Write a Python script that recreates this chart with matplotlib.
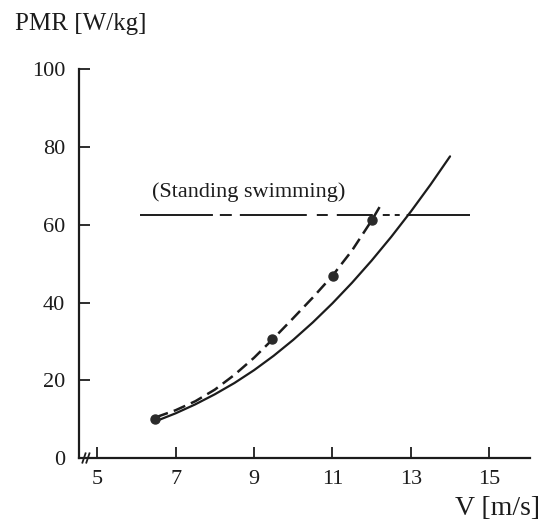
#!/usr/bin/env python

import numpy as np
import matplotlib
matplotlib.use('Agg')
import matplotlib.pyplot as plt

# values
# solid curve (predicted PMR)
v_solid = [6.5, 7.0, 7.5, 8.0, 8.5, 9.0, 9.5, 10.0, 10.5, 11.0, 11.5,
	12.0, 12.5, 13.0, 13.5, 14.0]
pmr_solid = [9.5, 11.5, 13.8, 16.4, 19.3, 22.6, 26.3, 30.4, 34.9, 39.8,
	45.1, 50.8, 56.9, 63.4, 70.3, 77.6]

# dashed curve (through measurements)
v_dash = [6.5, 7.0, 7.5, 8.0, 8.5, 9.0, 9.5, 10.0, 10.5, 11.0, 11.5,
	12.0, 12.28]
pmr_dash = [10.5, 12.3, 14.6, 17.6, 21.4, 25.8, 30.8, 36.0, 41.3, 46.9,
	53.4, 61.1, 65.9]

# measured points
v_meas = [6.46, 9.47, 11.02, 12.0]
pmr_meas = [10.0, 30.5, 46.8, 61.2]

# standing swimming level
standing_pmr = 62.5
standing_range = [6.09, 14.51]

xticks = [5, 7, 9, 11, 13, 15]
yticks = [0, 20, 40, 60, 80, 100]

ink = '#1c1c1c'

plt.rcParams['font.family'] = ['Liberation Serif', 'DejaVu Serif']
plt.rcParams['font.size'] = 16
plt.rcParams['lines.scale_dashes'] = False

fig = plt.figure(figsize=(5.46, 5.26), dpi=100)
ax = fig.add_axes([79/546., 68/526., 451/546., 388.7/526.])

ax.set_xlim(4.533, 16.04)
ax.set_ylim(0, 100)

#curves
ax.plot(v_solid, pmr_solid, color=ink, lw=1.6, solid_capstyle='round',
	solid_joinstyle='round')
ax.plot(v_dash, pmr_dash, color=ink, lw=1.8, dashes=(9, 4.5))
ax.plot(v_meas, pmr_meas, 'o', color='#2a2a2a', ms=6.5, mec='#2a2a2a')

#standing swimming line, hand drawn dash-dot look
ax.plot(standing_range, [standing_pmr, standing_pmr], color=ink, lw=1.4,
	dashes=(52.5, 5, 8.6, 5.8, 48.2, 7.2, 7.9, 6.5, 25.9, 7.2, 5, 3.6, 3.6, 5, 60, 0.1))
ax.text(6.39, 67.2, '(Standing swimming)', color=ink, fontsize=16,
	ha='left', va='baseline')

#axes look
for s in ['top', 'right']:
	ax.spines[s].set_visible(False)
for s in ['left', 'bottom']:
	ax.spines[s].set_linewidth(1.6)
	ax.spines[s].set_color(ink)

ax.set_xticks(xticks)
ax.set_yticks(yticks)
ax.tick_params(direction='in', length=8, width=1.3, color=ink,
	labelcolor=ink, labelsize=16)
ax.tick_params(axis='y', pad=10)
ax.tick_params(axis='x', pad=9)

# axis break on the V axis
tr = ax.get_xaxis_transform()
for x0 in [4.66, 4.76]:
	ax.plot([x0 - 0.04, x0 + 0.04], [-0.012, 0.012], color=ink, lw=1.3,
		transform=tr, clip_on=False)

fig.text(15/546., 1 - 30/526., 'PMR [W/kg]', color=ink, fontsize=18,
	ha='left', va='baseline')
fig.text(540/546., 1 - 515/526., 'V [m/s]', color=ink, fontsize=20,
	ha='right', va='baseline')

fig.savefig('out.png', dpi=100)
